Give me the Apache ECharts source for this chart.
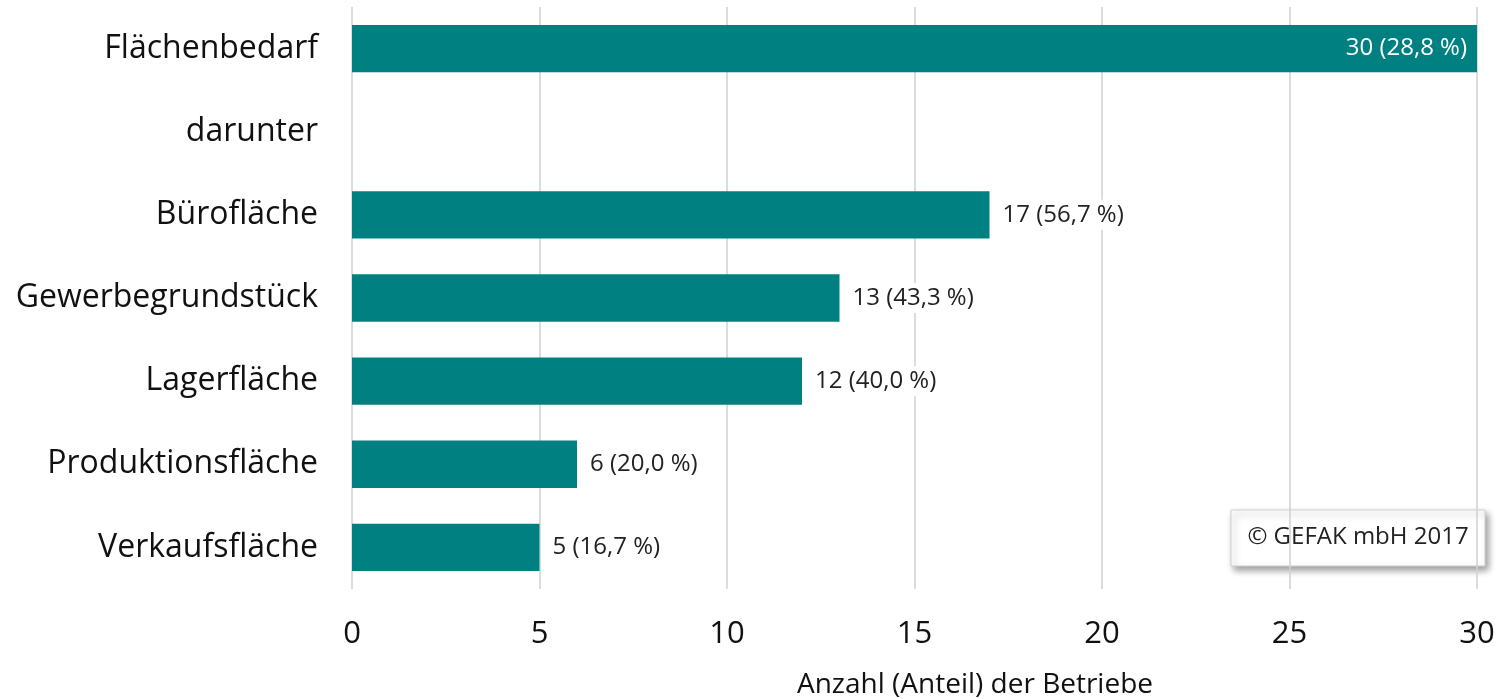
<!DOCTYPE html>
<html><head><meta charset="utf-8">
<script src="https://cdn.jsdelivr.net/npm/echarts@6/dist/echarts.min.js"></script>
<style>html,body{margin:0;padding:0;background:#fff}#c{width:1500px;height:699px}</style>
</head><body><div id="c"></div>
<script>
const categories = ['Flächenbedarf','darunter','Bürofläche','Gewerbegrundstück','Lagerfläche','Produktionsfläche','Verkaufsfläche'];
const values = [30, null, 17, 13, 12, 6, 5];
const shares = ['28,8 %', '', '56,7 %', '43,3 %', '40,0 %', '20,0 %', '16,7 %'];
const xTicks = [0, 5, 10, 15, 20, 25, 30];
const FONT = 'Open Sans';
const chart = echarts.init(document.getElementById('c'));
chart.setOption({
  animation: false,
  grid: {left: 352, right: 23, top: 7, bottom: 110},
  xAxis: {
    type: 'value', min: xTicks[0], max: xTicks[xTicks.length-1], interval: 5,
    axisLine: {show: false}, axisTick: {show: false},
    splitLine: {lineStyle: {color: '#d0d0d0', width: 1.5}},
    axisLabel: {fontFamily: FONT, fontSize: 31, color: '#111', margin: 30}
  },
  yAxis: {
    type: 'category', data: categories, inverse: true,
    axisLine: {show: false}, axisTick: {show: false},
    axisLabel: {fontFamily: FONT, fontSize: 32, color: '#111', margin: 34}
  },
  series: [{
    type: 'bar', barWidth: '57%',
    itemStyle: {color: '#008080'},
    data: values.map((v, i) => ({
      value: v,
      label: i === 0
        ? {show: true, position: 'insideRight', color: '#fff', backgroundColor: 'transparent', distance: 4}
        : {show: v != null}
    })),
    label: {
      position: 'right', distance: 7, fontFamily: FONT, fontSize: 24, color: '#222',
      backgroundColor: '#fff', padding: [3, 6, 3, 6],
      formatter: p => p.value + ' (' + shares[p.dataIndex] + ')'
    }
  }],
  graphic: [
    {type: 'text', x: 975, y: 685, style: {text: 'Anzahl (Anteil) der Betriebe', fontFamily: FONT, fontSize: 28, fill: '#111', textAlign: 'center', textVerticalAlign: 'middle'}},
    {type: 'rect', shape: {x: 1231, y: 510, width: 254, height: 56},
     style: {fill: '#fff', stroke: '#cfcfcf', lineWidth: 1, shadowBlur: 7, shadowOffsetX: 3, shadowOffsetY: 4, shadowColor: 'rgba(0,0,0,0.4)'}},
    {type: 'text', x: 1358, y: 537, style: {text: '© GEFAK mbH 2017', fontFamily: FONT, fontSize: 24, fill: '#222', textAlign: 'center', textVerticalAlign: 'middle'}}
  ]
});
</script></body></html>
